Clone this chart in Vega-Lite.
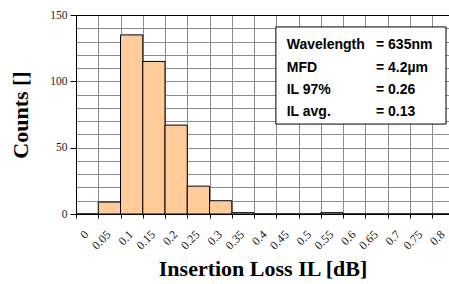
{
  "$schema": "https://vega.github.io/schema/vega-lite/v6.json",
  "width": 373,
  "height": 199,
  "autosize": {"type": "none"},
  "padding": {"left": 76, "top": 15, "right": 0, "bottom": 70},
  "background": "white",
  "config": {"view": {"stroke": null}},
  "resolve": {"axis": {"x": "independent", "y": "independent"}},
  "datasets": {
    "bins": [
      {"bin_start": 0, "bin_end": 0.05, "count": 0},
      {"bin_start": 0.05, "bin_end": 0.1, "count": 9},
      {"bin_start": 0.1, "bin_end": 0.15, "count": 135},
      {"bin_start": 0.15, "bin_end": 0.2, "count": 115},
      {"bin_start": 0.2, "bin_end": 0.25, "count": 67},
      {"bin_start": 0.25, "bin_end": 0.3, "count": 21},
      {"bin_start": 0.3, "bin_end": 0.35, "count": 10},
      {"bin_start": 0.35, "bin_end": 0.4, "count": 1},
      {"bin_start": 0.4, "bin_end": 0.45, "count": 0},
      {"bin_start": 0.45, "bin_end": 0.5, "count": 0},
      {"bin_start": 0.5, "bin_end": 0.55, "count": 0},
      {"bin_start": 0.55, "bin_end": 0.6, "count": 1},
      {"bin_start": 0.6, "bin_end": 0.65, "count": 0},
      {"bin_start": 0.65, "bin_end": 0.7, "count": 0},
      {"bin_start": 0.7, "bin_end": 0.75, "count": 0},
      {"bin_start": 0.75, "bin_end": 0.8, "count": 0},
      {"bin_start": 0.8, "bin_end": 0.85, "count": 0}
    ],
    "box": [{"il_from": 0.449, "il_to": 0.8313, "count_from": 67.8, "count_to": 141}],
    "notes": [
      {"param": "Wavelength", "value": "= 635nm", "at_count": 127.4},
      {"param": "MFD", "value": "= 4.2µm", "at_count": 110.0},
      {"param": "IL 97%", "value": "= 0.26", "at_count": 93.5},
      {"param": "IL avg.", "value": "= 0.13", "at_count": 76.9}
    ]
  },
  "layer": [
    {
      "data": {"name": "bins"},
      "mark": {"type": "rect", "fill": "#FFCC99", "stroke": "black", "strokeWidth": 1},
      "encoding": {
        "x": {
          "field": "bin_start",
          "type": "quantitative",
          "scale": {"domain": [0, 0.838], "nice": false, "zero": false},
          "axis": {
            "title": "Insertion Loss IL [dB]",
            "titleFont": "Liberation Serif",
            "titleFontSize": 22,
            "titleFontWeight": "bold",
            "titleColor": "black",
            "titlePadding": 7,
            "values": [0, 0.05, 0.1, 0.15, 0.2, 0.25, 0.3, 0.35, 0.4, 0.45, 0.5, 0.55, 0.6, 0.65, 0.7, 0.75, 0.8],
            "format": "~g",
            "labelAngle": -45,
            "labelAlign": "right",
            "labelBaseline": "middle",
            "labelOffset": 10,
            "labelPadding": 14,
            "labelFont": "Liberation Serif",
            "labelFontSize": 12,
            "labelColor": "#222",
            "labelOverlap": false,
            "tickSize": 4,
            "tickColor": "black",
            "domainColor": "black",
            "grid": true,
            "gridColor": "#8c8c8c",
            "gridWidth": 1
          }
        },
        "x2": {"field": "bin_end"},
        "y": {
          "field": "count",
          "type": "quantitative",
          "scale": {"domain": [0, 150], "nice": false},
          "axis": {
            "title": "Counts []",
            "titleFont": "Liberation Serif",
            "titleFontSize": 22,
            "titleFontWeight": "bold",
            "titleColor": "black",
            "titlePadding": 17,
            "values": [0, 10, 20, 30, 40, 50, 60, 70, 80, 90, 100, 110, 120, 130, 140, 150],
            "labelExpr": "datum.value % 50 === 0 ? datum.label : ''",
            "labelFont": "Liberation Serif",
            "labelFontSize": 11.5,
            "labelColor": "#222",
            "labelPadding": 3,
            "tickSize": 6,
            "tickColor": "black",
            "tickOpacity": {"condition": {"test": "datum.value % 50 === 0", "value": 1}, "value": 0},
            "domainColor": "black",
            "grid": true,
            "gridColor": {"condition": {"test": "datum.value === 150", "value": "black"}, "value": "#8c8c8c"},
            "gridWidth": 1
          }
        },
        "y2": {"datum": 0}
      }
    },
    {
      "data": {"name": "box"},
      "mark": {"type": "rect", "fill": "white", "stroke": "black", "strokeWidth": 1},
      "encoding": {
        "x": {"field": "il_from", "type": "quantitative", "axis": null},
        "x2": {"field": "il_to"},
        "y": {"field": "count_from", "type": "quantitative", "axis": null},
        "y2": {"field": "count_to"}
      }
    },
    {
      "data": {"name": "notes"},
      "mark": {"type": "text", "align": "left", "baseline": "middle", "font": "Liberation Sans", "fontSize": 14, "fontWeight": "bold", "color": "black"},
      "encoding": {
        "x": {"datum": 0.4734, "type": "quantitative", "axis": null},
        "y": {"field": "at_count", "type": "quantitative", "axis": null},
        "text": {"field": "param"}
      }
    },
    {
      "data": {"name": "notes"},
      "mark": {"type": "text", "align": "left", "baseline": "middle", "font": "Liberation Sans", "fontSize": 14, "fontWeight": "bold", "color": "black"},
      "encoding": {
        "x": {"datum": 0.674, "type": "quantitative", "axis": null},
        "y": {"field": "at_count", "type": "quantitative", "axis": null},
        "text": {"field": "value"}
      }
    }
  ]
}
